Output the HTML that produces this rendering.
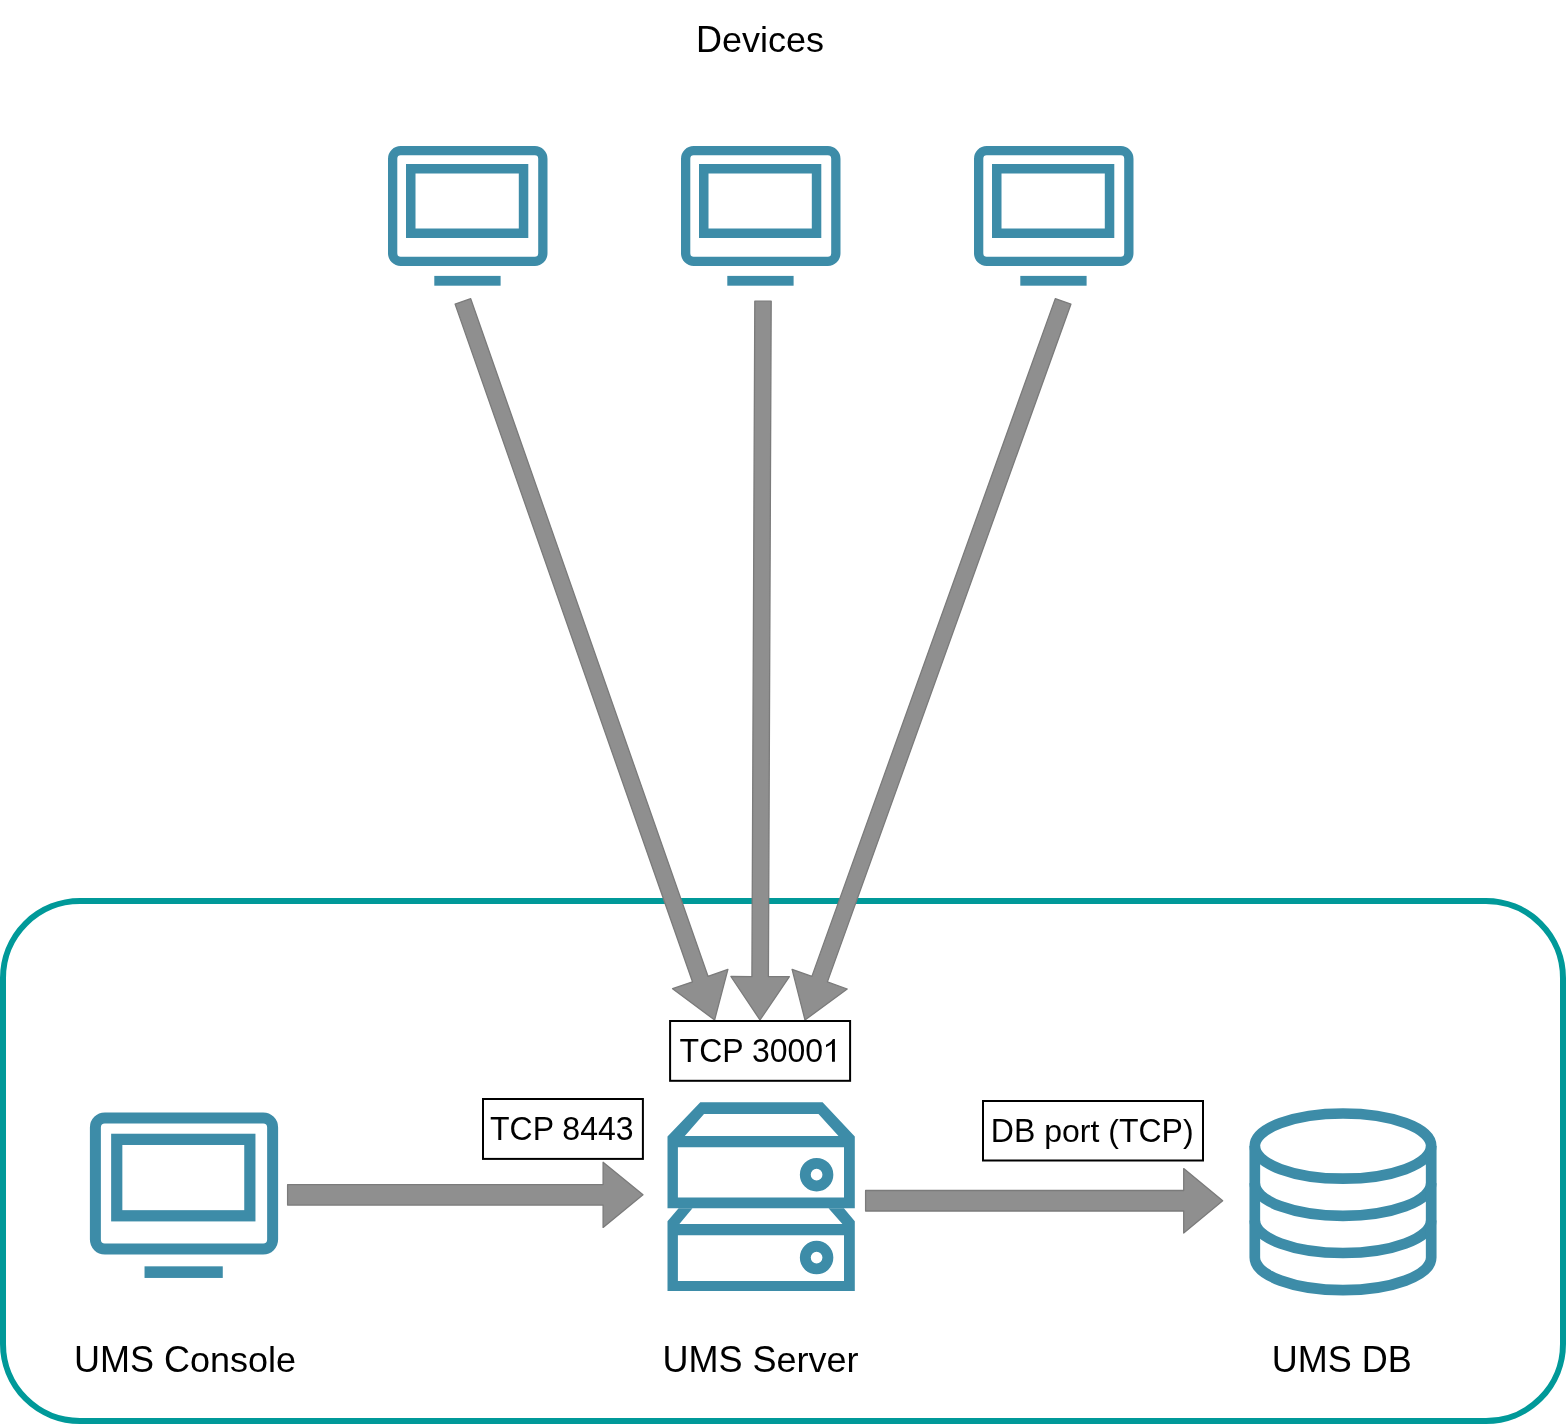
<!DOCTYPE html>
<html><head><meta charset="utf-8">
<style>
html,body{margin:0;padding:0;background:#fff;}
body{width:1566px;height:1424px;overflow:hidden;position:relative;}
svg{position:absolute;left:0;top:0;}
#wrap{position:absolute;left:0;top:0;width:1566px;height:1424px;will-change:transform;}
text{font-family:"Liberation Sans",sans-serif;fill:#000;}
</style></head><body><div id="wrap">
<svg width="1566" height="1424" viewBox="0 0 1566 1424">
<defs>
<g id="mon">
  <rect x="4.65" y="4.65" width="150.2" height="110.7" rx="8" ry="8" fill="none" stroke="#3d8ca8" stroke-width="9.3"/>
  <rect x="22.75" y="22.75" width="112.8" height="64.5" fill="none" stroke="#3d8ca8" stroke-width="9.5"/>
  <rect x="46.3" y="129.9" width="66.3" height="9.8" fill="#3d8ca8"/>
</g>
</defs>
<!-- container -->
<rect x="3" y="901" width="1560" height="520" rx="77" ry="77" fill="none" stroke="#009999" stroke-width="6"/>

<!-- device monitors -->
<use href="#mon" transform="translate(388,146)"/>
<use href="#mon" transform="translate(681,146)"/>
<use href="#mon" transform="translate(974,146)"/>
<!-- console monitor -->
<use href="#mon" transform="translate(89.9,1112.4) scale(1.18,1.185)"/>

<!-- server -->
<g fill="#3d8ca8" fill-rule="evenodd">
<path d="M700.3,1102.3 L822.6,1102.3 L854.8,1136.4 L854.8,1208.2 L667.5,1208.2 L667.5,1136.4 Z M704,1114 L684.8,1136 L838.5,1136 L818.5,1114 Z M677.9,1147.2 L677.9,1197.4 L844.0,1197.4 L844.0,1147.2 Z"/>
<path d="M678.6,1208.2 L667.5,1221.3 L667.5,1291 L854.8,1291 L854.8,1221.3 L843.9,1208.2 Z M692.5,1208.2 L679.4,1224.1 L842.4,1224.1 L828.5,1208.2 Z M677.9,1235.2 L677.9,1281 L844.0,1281 L844.0,1235.2 Z"/>
</g>
<circle cx="816.6" cy="1174.7" r="11.3" fill="none" stroke="#3d8ca8" stroke-width="10.9"/>
<circle cx="816.6" cy="1257.6" r="11.3" fill="none" stroke="#3d8ca8" stroke-width="10.9"/>

<!-- db -->
<g fill="none" stroke="#3d8ca8" stroke-width="10.7">
<ellipse cx="1343" cy="1146.1" rx="88.2" ry="32.6"/>
<path d="M1254.8,1183.3 A88.2,32.6 0 0 0 1431.2,1183.3"/>
<path d="M1254.8,1220.45 A88.2,32.6 0 0 0 1431.2,1220.45"/>
<path d="M1254.8,1146.1 L1254.8,1257.6 A88.2,32.6 0 0 0 1431.2,1257.6 L1431.2,1146.1"/>
</g>

<!-- ARROWS -->
<g id="arrows" fill="#8f8f8f" stroke="#7b7b7b" stroke-width="1.3" stroke-linejoin="round">
<polygon points="455.1,304.1 692.5,981.8 672.6,988.7 714.6,1020.0 727.9,969.4 708.0,976.3 470.7,298.7"/>
<polygon points="754.8,301.2 751.9,976.6 730.9,976.5 760.0,1020.0 789.4,976.7 768.4,976.6 771.2,301.2"/>
<polygon points="1055.3,298.6 811.9,976.4 792.1,969.3 805.0,1020.0 847.2,989.0 827.4,981.9 1070.9,304.2"/>
<polygon points="287.6,1205.1 603.1,1205.1 603.1,1227.4 643.0,1194.8 603.1,1162.3 603.1,1184.6 287.6,1184.6"/>
<polygon points="865.6,1211.0 1183.7,1211.0 1183.7,1233.0 1222.7,1200.8 1183.7,1168.6 1183.7,1190.5 865.6,1190.5"/>
</g>

<!-- boxes -->
<g fill="#fff" stroke="#000" stroke-width="2">
<rect x="670.1" y="1021" width="180" height="59.8"/>
<rect x="483" y="1099" width="159.9" height="59.9"/>
<rect x="983" y="1101" width="220" height="59.5"/>
</g>

<!-- text -->
<text font-size="36" transform="translate(695.98,52.00) scale(1,1.04)">D</text>
<text font-size="36" transform="translate(721.96,52.00) scale(1,0.975)" xml:space="preserve">evices</text>
<text font-size="36" transform="translate(73.95,1372.00) scale(1,1.04)">UMS</text>
<text font-size="36" transform="translate(163.95,1372.00) scale(1,1.04)">C</text>
<text font-size="36" transform="translate(189.94,1372.00) scale(1,0.975)" xml:space="preserve">onsole</text>
<text font-size="36" transform="translate(662.48,1372.00) scale(1,1.04)">UMS</text>
<text font-size="36" transform="translate(752.48,1372.00) scale(1,1.04)">S</text>
<text font-size="36" transform="translate(776.48,1372.00) scale(1,0.975)" xml:space="preserve">erver</text>
<text font-size="36" transform="translate(1271.69,1372.00) scale(1,1.04)">UMS</text>
<text font-size="36" transform="translate(1361.69,1372.00) scale(1,1.04)">DB</text>
<text font-size="32" transform="translate(679.60,1061.50) scale(1,1.04)">TCP</text>
<text font-size="32" transform="translate(751.91,1061.50) scale(1,1.04)">3000</text>
<text font-size="32" transform="translate(490.05,1139.50) scale(1,1.04)">TCP</text>
<text font-size="32" transform="translate(562.36,1139.50) scale(1,1.04)">8443</text>
<text font-size="32" transform="translate(990.86,1142.00) scale(1,1.04)">DB</text>
<text font-size="32" transform="translate(1044.20,1142.00) scale(1,0.975)" xml:space="preserve">port (</text>
<text font-size="32" transform="translate(1118.89,1142.00) scale(1,1.04)">TCP</text>
<text font-size="32" transform="translate(1182.89,1142.00) scale(1,0.975)" xml:space="preserve">)</text>
<path d="M832,1061.8 L834.9,1061.8 L834.9,1039 L832.9,1039 C831.8,1041.2 829.2,1043.4 826,1044.7 L826,1047.2 C828.4,1046.3 830.6,1044.9 832,1043.6 Z" fill="#000"/>
</svg></div>
</body></html>
